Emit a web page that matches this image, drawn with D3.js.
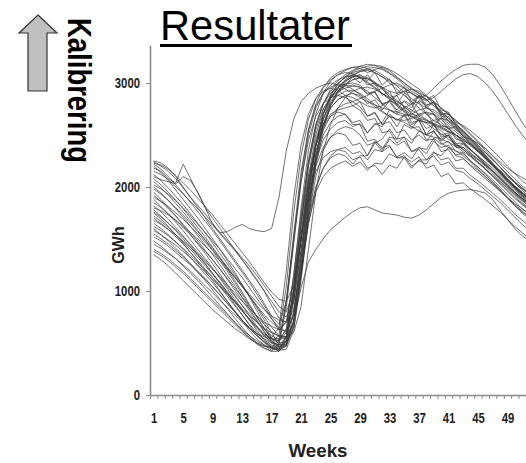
<!DOCTYPE html>
<html><head><meta charset="utf-8">
<script src="https://cdn.jsdelivr.net/npm/d3@7"></script>
<style>body{margin:0;background:#fff}svg{display:block}</style>
</head><body>
<svg id="c" width="526" height="463"></svg>
<script>
const weeks = [1,2,3,4,5,6,7,8,9,10,11,12,13,14,15,16,17,18,19,20,21,22,23,24,25,26,27,28,29,30,31,32,33,34,35,36,37,38,39,40,41,42,43,44,45,46,47,48,49,50,51,52];
const xTickLabels = [1,5,9,13,17,21,25,29,33,37,41,45,49];
const yTickValues = [0,1000,2000,3000];
const titleText = "Resultater";
const sideText = "Kalibrering";
const yTitle = "GWh";
const xTitle = "Weeks";

const s01=[2250,2230,2180,2100,2000,1900,1800,1700,1600,1500,1400,1300,1200,1100,1000,880,760,680,900,1500,2100,2550,2800,2950,3050,3100,3130,3150,3160,3140,3100,3060,3020,2980,2950,2900,2850,2780,2700,2620,2560,2500,2450,2400,2340,2280,2220,2160,2100,2040,1980,1930];
const s02=[2240,2200,2150,2080,1990,1900,1820,1740,1650,1560,1480,1400,1320,1240,1150,1050,950,850,800,1000,1500,2000,2400,2650,2820,2920,2980,3060,3000,3080,2980,2960,2860,2880,2760,2800,2680,2720,2600,2660,2560,2580,2480,2460,2420,2370,2300,2220,2150,2080,2010,1950];
const s03=[2180,2150,2080,2040,2220,2080,1940,1800,1640,1560,1570,1610,1640,1600,1580,1570,1600,1900,2350,2650,2820,2900,2950,2980,3000,2980,2940,2900,2860,2820,2790,2760,2740,2720,2700,2680,2660,2640,2610,2580,2540,2500,2450,2400,2340,2270,2200,2130,2060,2000,1940,1880];
const s04=[1350,1300,1240,1170,1100,1030,960,890,820,760,700,640,590,540,500,470,450,430,480,720,1030,1280,1400,1500,1590,1650,1710,1760,1800,1810,1780,1750,1740,1730,1710,1700,1730,1780,1840,1900,1940,1960,1970,1975,1960,1940,1880,1780,1690,1600,1530,1480];
const s05=[2100,2070,2050,2030,2100,2060,1950,1800,1700,1600,1500,1400,1300,1200,1100,1000,900,800,750,900,1400,1950,2400,2700,2850,2950,3020,3060,3080,3020,3100,2980,3040,2900,2960,2820,2880,2760,2820,2700,2700,2620,2590,2540,2480,2420,2350,2280,2200,2130,2060,2000];
const s06=[2220,2170,2100,2020,1940,1850,1760,1670,1580,1480,1380,1280,1180,1080,970,860,740,620,700,1150,1800,2350,2700,2900,3020,3080,3120,3150,3140,3100,3130,3150,3120,3060,3000,2940,2900,2870,2820,2760,2700,2640,2580,2510,2440,2370,2300,2240,2180,2130,2090,2050];
const s07=[2200,2140,2060,1970,1880,1790,1700,1600,1500,1400,1290,1180,1060,940,810,680,550,650,1200,1900,2400,2700,2850,2920,2950,2930,2880,2780,2820,2680,2720,2600,2680,2580,2700,2600,2640,2500,2540,2420,2380,2350,2300,2240,2170,2100,2030,1960,1890,1820,1760,1700];
const s08=[2150,2120,2070,2000,1930,1860,1790,1710,1630,1550,1470,1390,1300,1210,1110,1000,860,740,700,900,1400,1900,2200,2380,2480,2520,2500,2400,2420,2300,2420,2460,2560,2460,2480,2340,2380,2320,2440,2380,2400,2300,2280,2200,2140,2080,2020,1960,1900,1840,1790,1740];
const s09=[2120,2060,1990,1910,1830,1740,1650,1560,1460,1360,1260,1160,1060,950,840,720,600,480,560,950,1500,2000,2350,2550,2680,2760,2800,2820,2850,2880,2920,2950,2980,3000,2960,2900,2860,2880,2950,3020,3080,3130,3170,3180,3180,3150,3080,2980,2860,2740,2620,2520];
const s10=[2080,2020,1950,1870,1790,1700,1610,1520,1420,1320,1210,1100,990,870,750,640,540,520,640,1150,1750,2250,2600,2800,2920,3000,3050,3080,3060,2980,3000,2880,2920,2790,2820,2760,2880,2840,2880,2740,2720,2600,2540,2460,2380,2300,2220,2150,2080,2010,1950,1890];
const s11=[2050,1990,1920,1840,1760,1670,1580,1490,1390,1290,1190,1080,970,860,750,640,540,460,520,900,1500,2050,2450,2700,2860,2960,3030,3080,3110,3120,3100,3060,3000,2940,2880,2820,2760,2700,2640,2600,2560,2500,2430,2360,2290,2220,2150,2080,2010,1950,1890,1840];
const s12=[2020,1980,1930,1870,1800,1720,1640,1560,1480,1400,1310,1220,1130,1030,930,830,730,650,600,780,1300,1850,2250,2500,2620,2680,2700,2620,2640,2520,2600,2620,2740,2700,2760,2620,2640,2500,2540,2440,2500,2400,2380,2320,2270,2210,2150,2080,2010,1940,1870,1810];
const s13=[2000,1940,1870,1790,1710,1620,1530,1440,1350,1250,1150,1050,940,830,720,610,510,430,470,800,1350,1950,2400,2700,2880,2990,3060,3100,3120,3140,3150,3130,3090,3040,2980,2920,2880,2840,2780,2710,2640,2570,2500,2430,2360,2290,2220,2150,2080,2010,1950,1890];
const s14=[1980,1930,1870,1800,1730,1650,1570,1490,1410,1320,1230,1140,1050,950,850,750,650,570,560,700,1150,1650,1950,2100,2180,2220,2250,2200,2240,2160,2230,2220,2320,2280,2300,2200,2250,2220,2330,2300,2380,2310,2320,2250,2190,2120,2050,1980,1900,1820,1750,1690];
const s15=[1950,1880,1800,1720,1630,1540,1450,1360,1260,1160,1060,960,860,760,660,570,500,580,1050,1750,2300,2650,2850,2960,3030,3080,3100,3090,3050,3000,2950,2900,2860,2820,2780,2740,2700,2650,2600,2560,2530,2500,2460,2410,2350,2280,2210,2140,2070,2000,1940,1880];
const s16=[1920,1860,1790,1720,1640,1560,1480,1390,1300,1210,1110,1010,910,810,710,610,520,460,470,650,1150,1750,2250,2580,2780,2900,2980,3030,3050,3040,3000,2940,2870,2800,2740,2700,2680,2640,2590,2540,2480,2420,2360,2300,2240,2170,2100,2030,1960,1890,1830,1770];
const s17=[1900,1860,1810,1750,1690,1620,1550,1470,1390,1310,1220,1130,1040,950,860,770,700,640,700,1100,1650,2100,2400,2580,2680,2720,2700,2600,2600,2440,2460,2360,2480,2460,2600,2560,2660,2560,2600,2480,2500,2380,2380,2310,2260,2200,2130,2060,1990,1920,1850,1790];
const s18=[1880,1810,1740,1660,1580,1490,1400,1310,1220,1120,1020,920,820,720,620,530,460,420,520,1000,1650,2200,2580,2800,2940,3020,3080,3120,3160,3180,3170,3140,3100,3050,3000,2950,2900,2840,2780,2720,2660,2600,2540,2470,2400,2330,2260,2190,2120,2050,1990,1930];
const s19=[1850,1800,1740,1680,1610,1540,1460,1380,1300,1210,1120,1030,940,850,760,680,610,560,540,700,1200,1800,2300,2600,2760,2840,2880,2900,2880,2800,2840,2740,2830,2800,2900,2800,2820,2700,2700,2580,2580,2460,2440,2360,2290,2220,2150,2080,2010,1940,1880,1820];
const s20=[1820,1760,1690,1610,1530,1440,1350,1260,1170,1070,970,870,770,670,580,500,450,440,560,1050,1700,2250,2600,2800,2900,2960,2990,3000,2980,2900,2920,2800,2820,2720,2770,2720,2830,2780,2820,2700,2710,2610,2540,2470,2400,2330,2260,2190,2120,2050,1990,1930];
const s21=[1800,1770,1730,1680,1620,1560,1500,1430,1360,1290,1210,1130,1050,970,890,820,760,720,700,820,1250,1700,2000,2180,2280,2320,2300,2220,2300,2300,2440,2380,2400,2280,2280,2180,2260,2260,2340,2260,2280,2180,2180,2110,2060,2000,1940,1880,1810,1740,1680,1620];
const s22=[1780,1720,1650,1580,1500,1420,1340,1260,1170,1080,990,900,810,720,640,570,510,480,490,680,1200,1800,2300,2650,2850,2960,3020,3060,3070,3050,3010,2960,2920,2900,2920,2940,2920,2870,2800,2730,2660,2590,2520,2450,2380,2300,2220,2140,2060,1990,1920,1860];
const s23=[1750,1690,1620,1540,1460,1370,1280,1190,1100,1000,900,800,710,620,540,480,430,500,900,1550,2150,2550,2780,2900,2960,2990,2980,2940,2890,2830,2770,2720,2680,2650,2620,2580,2540,2500,2480,2460,2430,2390,2340,2290,2230,2170,2110,2050,1990,1930,1870,1810];
const s24=[1720,1670,1610,1540,1470,1400,1320,1240,1160,1080,990,900,810,730,650,580,540,520,600,1000,1550,2050,2400,2600,2700,2740,2760,2780,2740,2640,2660,2520,2540,2420,2480,2420,2540,2500,2600,2500,2520,2420,2420,2350,2300,2240,2180,2110,2040,1970,1900,1840];
const s25=[1700,1650,1590,1520,1450,1370,1290,1210,1130,1040,950,860,770,680,600,530,480,460,480,720,1300,1900,2400,2700,2880,2990,3060,3110,3140,3160,3170,3160,3130,3090,3040,2990,2940,2880,2820,2760,2700,2640,2570,2500,2430,2350,2270,2190,2110,2040,1970,1900];
const s26=[1680,1640,1590,1540,1480,1420,1350,1280,1210,1140,1060,980,900,830,760,700,660,630,620,760,1200,1650,1980,2180,2300,2360,2380,2320,2340,2260,2360,2340,2460,2400,2440,2340,2360,2260,2300,2210,2240,2160,2140,2080,2030,1970,1910,1850,1780,1710,1640,1580];
const s27=[1650,1600,1540,1470,1400,1320,1240,1160,1080,990,900,810,720,640,570,510,460,440,540,1000,1650,2200,2550,2750,2860,2920,2950,2970,2960,2890,2910,2790,2830,2740,2830,2790,2880,2790,2810,2680,2680,2580,2510,2440,2370,2290,2210,2130,2050,1980,1910,1850];
const s28=[1620,1580,1530,1470,1410,1340,1270,1200,1130,1050,970,890,810,730,660,590,540,500,510,700,1200,1700,2100,2350,2480,2550,2580,2560,2500,2400,2430,2340,2390,2290,2330,2270,2380,2360,2470,2410,2440,2340,2330,2250,2190,2130,2070,2000,1930,1860,1790,1730];
const s29=[1600,1540,1480,1410,1340,1260,1180,1100,1010,920,830,740,650,570,500,450,420,480,850,1450,2050,2500,2760,2900,2980,3030,3060,3070,3050,3010,2960,2900,2840,2780,2720,2670,2640,2620,2600,2570,2530,2480,2420,2360,2300,2230,2160,2090,2020,1950,1890,1830];
const s30=[1580,1540,1490,1440,1380,1320,1250,1180,1110,1040,970,900,830,760,700,640,600,570,560,600,850,1400,1950,2350,2600,2760,2860,2920,2950,2960,2940,2900,2850,2790,2730,2680,2640,2620,2640,2660,2640,2590,2530,2460,2390,2310,2230,2150,2070,1990,1920,1860];
const s31=[1550,1500,1450,1390,1330,1260,1190,1120,1040,960,880,800,720,640,570,510,470,450,560,1000,1500,1900,2150,2280,2340,2360,2340,2260,2290,2180,2210,2120,2210,2180,2290,2240,2290,2180,2210,2100,2130,2030,2040,1980,1930,1880,1820,1760,1690,1620,1560,1500];
const s32=[1520,1480,1430,1370,1310,1250,1180,1110,1040,960,880,800,720,650,590,540,500,480,490,650,1150,1750,2250,2600,2800,2920,2990,3030,3050,3040,3000,2950,2890,2830,2770,2710,2660,2610,2560,2510,2460,2410,2360,2300,2240,2180,2110,2040,1970,1900,1840,1780];
const s33=[1480,1430,1370,1310,1240,1170,1100,1020,940,860,780,700,620,550,490,450,420,420,520,950,1550,2100,2500,2740,2870,2940,2970,2980,2960,2920,2860,2800,2740,2700,2680,2700,2740,2760,2740,2690,2630,2560,2490,2420,2350,2280,2210,2140,2070,2000,1940,1880];
const s34=[1450,1410,1360,1310,1250,1190,1120,1050,980,910,840,770,700,640,590,560,540,540,620,1000,1500,1950,2250,2450,2560,2620,2640,2580,2610,2520,2610,2580,2700,2640,2690,2570,2580,2450,2460,2340,2360,2250,2270,2210,2160,2100,2040,1970,1900,1830,1770,1710];
const s35=[1400,1360,1310,1250,1190,1120,1050,980,910,840,770,700,630,570,520,480,450,430,440,620,1100,1700,2200,2550,2780,2920,3010,3070,3110,3130,3120,3080,3030,2970,2910,2850,2800,2760,2720,2670,2610,2550,2490,2420,2350,2280,2210,2140,2070,2000,1930,1870];
const s36=[1380,1340,1290,1230,1170,1100,1030,960,890,820,750,680,610,550,500,470,460,520,900,1500,2050,2450,2680,2800,2860,2880,2860,2820,2770,2680,2710,2600,2630,2520,2550,2450,2500,2440,2530,2460,2500,2390,2410,2330,2270,2210,2150,2090,2020,1950,1890,1830];
const s37=[2230,2210,2170,2110,2040,1970,1890,1810,1730,1640,1550,1460,1370,1280,1180,1080,990,920,900,1050,1500,2000,2400,2650,2800,2880,2920,2930,2900,2850,2790,2730,2680,2650,2640,2660,2700,2720,2700,2650,2590,2530,2470,2410,2350,2280,2210,2140,2070,2000,1940,1880];
const s38=[1760,1710,1650,1590,1520,1450,1370,1290,1210,1130,1040,950,860,780,700,630,570,530,560,800,1300,1850,2300,2600,2760,2840,2880,2860,2820,2780,2760,2780,2830,2880,2920,2900,2860,2830,2860,2920,2980,3040,3080,3090,3060,3000,2920,2820,2710,2600,2500,2420];

const seriesList = [s01,s02,s03,s04,s05,s06,s07,s08,s09,s10,s11,s12,s13,s14,s15,s16,s17,s18,s19,s20,s21,s22,s23,s24,s25,s26,s27,s28,s29,s30,s31,s32,s33,s34,s35,s36,s37,s38];

const svg = d3.select("#c");
const font = "'Liberation Sans', Arial, sans-serif";

const x = d3.scalePoint().domain(weeks).range([150, 533.24]).padding(0.5);
const xb = d3.scaleLinear().domain([0, weeks.length]).range([150, 533.24]);
const y = d3.scaleLinear().domain([0, 3365]).range([395, 45]);

// lines
const line = d3.line().x((d,i) => x(weeks[i])).y(d => y(d));
svg.append("g").selectAll("path").data(seriesList).join("path")
  .attr("d", line).attr("fill","none")
  .attr("stroke","#3a3a3a").attr("stroke-width",0.9).attr("stroke-opacity",0.8);

// y axis
const ya = svg.append("g").attr("transform","translate(150,0)")
  .call(d3.axisLeft(y).tickValues(yTickValues).tickSize(4).tickSizeOuter(0).tickPadding(6).tickFormat(d3.format("d")));
ya.select(".domain").attr("stroke","#8c8c8c").attr("stroke-width",1.6);
ya.selectAll(".tick line").attr("stroke","#8c8c8c");
ya.selectAll("text").attr("font-family",font).attr("font-weight","bold").attr("font-size",14)
  .attr("fill","#222").attr("textLength", d => String(d).length*6.3).attr("lengthAdjust","spacingAndGlyphs");

// x axis ticks
const xa = svg.append("g").attr("transform","translate(0,395)")
  .call(d3.axisBottom(xb).tickValues(d3.range(0, weeks.length+1)).tickSize(4).tickSizeOuter(0).tickFormat(""));
xa.select(".domain").attr("stroke","#8c8c8c").attr("stroke-width",1.6);
xa.selectAll(".tick line").attr("stroke","#8c8c8c");
const xl = svg.append("g").attr("transform","translate(0,395)")
  .call(d3.axisBottom(x).tickValues(xTickLabels).tickSize(0).tickPadding(18));
xl.select(".domain").remove();
xl.selectAll("text").attr("font-family",font).attr("font-weight","bold").attr("font-size",14)
  .attr("fill","#222").attr("textLength", d => String(d).length*6.3).attr("lengthAdjust","spacingAndGlyphs");

// axis titles
svg.append("text").attr("x",318).attr("y",457).attr("text-anchor","middle")
  .attr("font-family",font).attr("font-weight","bold").attr("font-size",19)
  .attr("textLength",59).attr("lengthAdjust","spacingAndGlyphs").attr("fill","#222").text(xTitle);
svg.append("text").attr("transform","translate(124,245) rotate(-90)").attr("text-anchor","middle")
  .attr("font-family",font).attr("font-weight","bold").attr("font-size",16)
  .attr("fill","#222").text(yTitle);

// title
svg.append("text").attr("x",160).attr("y",40).attr("font-family",font).attr("font-size",42)
  .attr("textLength",190).attr("lengthAdjust","spacingAndGlyphs").attr("fill","#000").text(titleText);
svg.append("rect").attr("x",160).attr("y",44).attr("width",192).attr("height",3).attr("fill","#000");

// arrow
svg.append("path").attr("d","M38,15 L57,33 L47,33 L47,91 L28,91 L28,33 L19,33 Z")
  .attr("fill","#c0c0c0").attr("stroke","#333").attr("stroke-width",1.2);
svg.append("text").attr("transform","translate(68,18) rotate(90)")
  .attr("font-family",font).attr("font-weight","bold").attr("font-size",33)
  .attr("textLength",145).attr("lengthAdjust","spacingAndGlyphs").attr("fill","#000").text(sideText);
</script>
</body></html>
